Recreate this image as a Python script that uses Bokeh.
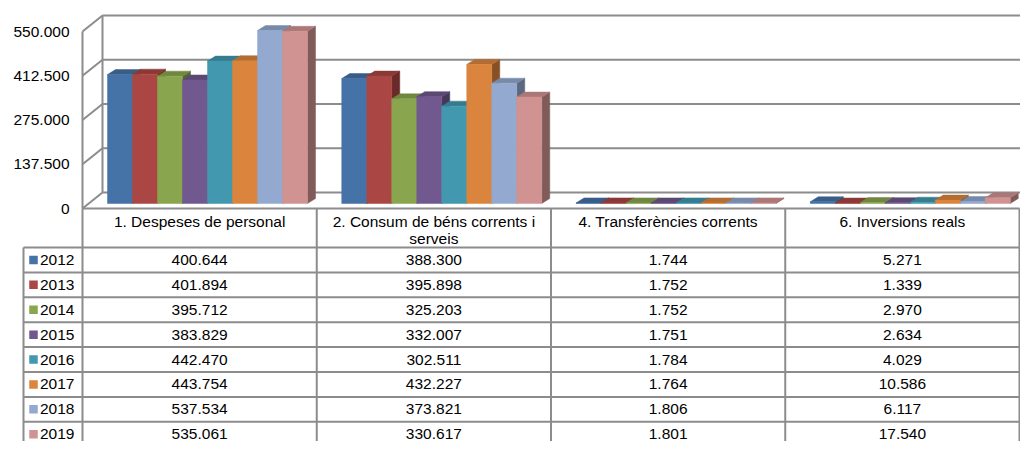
import textwrap
from bokeh.plotting import figure
from bokeh.models import Range1d
from bokeh.core.properties import value
from bokeh.embed import file_html
from bokeh.resources import INLINE

# ---------------- data ----------------
categories = ["1. Despeses de personal", "2. Consum de béns corrents i serveis",
              "4. Transferències corrents", "6. Inversions reals"]
years = ["2012", "2013", "2014", "2015", "2016", "2017", "2018", "2019"]
despeses_personal = [400644, 401894, 395712, 383829, 442470, 443754, 537534, 535061]
consum_bens = [388300, 395898, 325203, 332007, 302511, 432227, 373821, 330617]
transferencies = [1744, 1752, 1752, 1751, 1784, 1764, 1806, 1801]
inversions = [5271, 1339, 2970, 2634, 4029, 10586, 6117, 17540]
axis_ticks = [0, 137500, 275000, 412500, 550000]
colors = ["#4572A7", "#AA4643", "#89A54E", "#71588F", "#4198AF", "#DB843D", "#93A9CF", "#D19392"]

series_by_cat = [despeses_personal, consum_bens, transferencies, inversions]

# ---------------- layout / style ----------------
FONT = value("Liberation Sans")
FS = "15.5px"
W, H = 1020, 441
X0, X1 = 0, 1020
Y_TOP, Y_BOT = 0, 441
K = 44.25 / 137500.0          # px per unit
BAR_ZERO = 203
FRONT = -5 / K
BACK = 11 / K
WALL_L, WALL_B = 82, 102
TABLE_L = 23
COL0 = 82
COL_W = (1019 - COL0) / 4
GROUP_PAD, BAR_W = 25, 25
DX, DY = 8, 5 / K
HEADER_TOP, HEADER_BOT, ROW_H = 208, 247, 24.9
LINE = "#8c8c8c"


def shade(hex_color, f):
    r, g, b = (int(hex_color[i:i + 2], 16) for i in (1, 3, 5))
    return "#%02x%02x%02x" % (int(r * f), int(g * f), int(b * f))


def fmt(v):
    return f"{v:,}".replace(",", ".")


p = figure(width=W, height=H, output_backend="svg", toolbar_location=None,
           x_range=Range1d(X0, X1),
           y_range=Range1d(-(Y_BOT - BAR_ZERO) / K, (BAR_ZERO - Y_TOP) / K),
           x_axis_type=None, y_axis_type=None, min_border=0,
           outline_line_color=None)
p.grid.visible = False
p.extra_y_ranges = {"px": Range1d(Y_BOT, Y_TOP)}

top_tick = axis_ticks[-1]
# back wall gridlines
p.segment(x0=[WALL_B] * len(axis_ticks), x1=[X1] * len(axis_ticks),
          y0=[t + BACK for t in axis_ticks], y1=[t + BACK for t in axis_ticks],
          line_color=LINE, line_width=2)
# side wall diagonals
p.segment(x0=[WALL_L] * len(axis_ticks), x1=[WALL_B] * len(axis_ticks),
          y0=[t + FRONT for t in axis_ticks], y1=[t + BACK for t in axis_ticks],
          line_color=LINE, line_width=2)
# wall verticals
p.segment(x0=[WALL_L, WALL_B], x1=[WALL_L, WALL_B],
          y0=[FRONT, BACK], y1=[top_tick + FRONT, top_tick + BACK],
          line_color=LINE, line_width=2)

# tick labels
p.text(x=[69] * len(axis_ticks), y=[t + FRONT for t in axis_ticks],
       text=[fmt(t) for t in axis_ticks], text_align="right", text_baseline="middle",
       text_font=FONT, text_font_size=FS, text_color="#000000")

# bars (painter order left -> right)
for s, yr in enumerate(years):
    vals = [series_by_cat[c][s] for c in range(len(categories))]
    xl = [COL0 + c * COL_W + GROUP_PAD + s * BAR_W for c in range(len(categories))]
    base = colors[s]
    side_c = shade(base, 0.62)
    top_c = shade(base, 0.82)
    p.patches(xs=[[x + BAR_W, x + BAR_W + DX, x + BAR_W + DX, x + BAR_W] for x in xl],
              ys=[[0, DY, v + DY, v] for v in vals],
              fill_color=side_c, line_color=side_c, line_width=0.5)
    p.patches(xs=[[x, x + BAR_W, x + BAR_W + DX, x + DX] for x in xl],
              ys=[[v, v, v + DY, v + DY] for v in vals],
              fill_color=top_c, line_color=top_c, line_width=0.5)
    p.vbar(x=[x + BAR_W / 2 for x in xl], width=BAR_W, top=vals, bottom=0,
           fill_color=base, line_color=base, line_width=0.5)

# ---------------- data table ----------------
col_edges = [COL0 + i * COL_W for i in range(len(categories) + 1)]
row_lines = [HEADER_BOT + r * ROW_H for r in range(len(years))]
p.segment(x0=col_edges, x1=col_edges, y0=[HEADER_TOP] * len(col_edges),
          y1=[Y_BOT + 2] * len(col_edges), line_color=LINE, line_width=2, y_range_name="px")
p.segment(x0=[TABLE_L], x1=[TABLE_L], y0=[HEADER_BOT], y1=[Y_BOT + 2],
          line_color=LINE, line_width=2, y_range_name="px")
p.segment(x0=[TABLE_L] * len(row_lines), x1=[col_edges[-1]] * len(row_lines),
          y0=row_lines, y1=row_lines, line_color=LINE, line_width=2, y_range_name="px")
# floor front edge / header top
p.segment(x0=[WALL_L], x1=[col_edges[-1]], y0=[FRONT], y1=[FRONT],
          line_color=LINE, line_width=2)

# header text
hx, hy, ht = [], [], []
for c, name in enumerate(categories):
    for li, line in enumerate(textwrap.wrap(name, 28)):
        hx.append(COL0 + (c + 0.5) * COL_W)
        hy.append(221 + li * 17)
        ht.append(line)
p.text(x=hx, y=hy, text=ht, text_align="center", text_baseline="middle",
       text_font=FONT, text_font_size=FS, text_color="#000000", y_range_name="px")

# rows
row_c = [HEADER_BOT + (r + 0.5) * ROW_H for r in range(len(years))]
p.scatter(x=[33] * len(years), y=row_c, marker="square", size=8.5,
          fill_color=colors, line_color=None, y_range_name="px")
p.text(x=[39.5] * len(years), y=row_c, text=years, text_align="left",
       text_baseline="middle", text_font=FONT, text_font_size=FS,
       text_color="#000000", y_range_name="px")
vx, vy, vt = [], [], []
for c in range(len(categories)):
    for r in range(len(years)):
        vx.append(COL0 + (c + 0.5) * COL_W)
        vy.append(row_c[r])
        vt.append(fmt(series_by_cat[c][r]))
p.text(x=vx, y=vy, text=vt, text_align="center", text_baseline="middle",
       text_font=FONT, text_font_size=FS, text_color="#000000", y_range_name="px")

open("out.html", "w").write(file_html(p, INLINE))
